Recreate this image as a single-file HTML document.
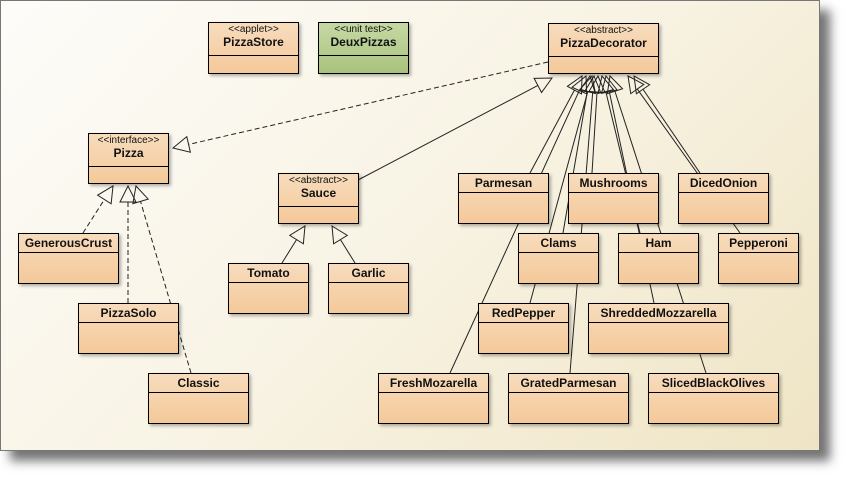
<!DOCTYPE html>
<html><head><meta charset="utf-8"><style>
body{margin:0;width:850px;height:481px;background:#fff;position:relative;overflow:hidden;font-family:"Liberation Sans",Arial,sans-serif}
#frame{position:absolute;left:0;top:0;width:818px;height:449px;border:1px solid #777;background:linear-gradient(135deg,#fdfcf9 0%,#f8f3e4 50%,#efe4c4 100%);box-shadow:10px 10px 10px rgba(0,0,0,0.55)}
.b{position:absolute;border:1px solid #000;background:linear-gradient(#f7dcbd,#f4c99a);box-shadow:2px 2px 3px rgba(0,0,0,0.3);box-sizing:border-box}
.b .h{border-bottom:1px solid #000;text-align:center;font-weight:bold;font-size:12px;color:#111;box-sizing:border-box}
.b .s{font-weight:normal;font-size:10px;display:block;line-height:11px;padding-top:1px}
.g{background:linear-gradient(#c6d9a4,#a9c27d)}
svg{position:absolute;left:0;top:0}
</style></head><body>
<div id="frame"></div>
<svg id="sv" width="850" height="481"></svg>
<div class="b" style="left:208px;top:22px;width:91px;height:52px"><div class="h" style="height:33px"><span class="s">&lt;&lt;applet&gt;&gt;</span>PizzaStore</div></div>
<div class="b g" style="left:318px;top:22px;width:91px;height:52px"><div class="h" style="height:33px"><span class="s">&lt;&lt;unit test&gt;&gt;</span>DeuxPizzas</div></div>
<div class="b" style="left:548px;top:23px;width:111px;height:51px"><div class="h" style="height:33px"><span class="s">&lt;&lt;abstract&gt;&gt;</span>PizzaDecorator</div></div>
<div class="b" style="left:88px;top:133px;width:81px;height:51px"><div class="h" style="height:33px"><span class="s">&lt;&lt;interface&gt;&gt;</span>Pizza</div></div>
<div class="b" style="left:278px;top:173px;width:81px;height:51px"><div class="h" style="height:33px"><span class="s">&lt;&lt;abstract&gt;&gt;</span>Sauce</div></div>
<script>
var boxes=[["GenerousCrust",18,233,101],["PizzaSolo",78,303,101],["Classic",148,373,101],["Tomato",228,263,81],["Garlic",328,263,81],
["Parmesan",458,173,91],["Mushrooms",568,173,91],["DicedOnion",678,173,91],["Clams",518,233,81],["Ham",618,233,81],["Pepperoni",718,233,81],
["RedPepper",478,303,91],["ShreddedMozzarella",588,303,141],["FreshMozarella",378,373,111],["GratedParmesan",508,373,121],["SlicedBlackOlives",648,373,131]];
boxes.forEach(function(b){document.write('<div class="b" style="left:'+b[1]+'px;top:'+b[2]+'px;width:'+b[3]+'px;height:51px"><div class="h" style="height:19px;line-height:18px">'+b[0]+'</div></div>');});
var s='';
function arr(x1,y1,tx,ty,dash){var dx=tx-x1,dy=ty-y1,L=Math.sqrt(dx*dx+dy*dy),ux=dx/L,uy=dy/L,bx=tx-ux*16,by=ty-uy*16,px=-uy*8,py=ux*8;
s+='<line x1="'+x1+'" y1="'+y1+'" x2="'+bx+'" y2="'+by+'" stroke="#222" stroke-width="1"'+(dash?' stroke-dasharray="5,3"':'')+'/>';
s+='<polygon points="'+tx+','+ty+' '+(bx+px)+','+(by+py)+' '+(bx-px)+','+(by-py)+'" fill="none" stroke="#222"/>';}
arr(548,62,173,148,1);
arr(358,180,552,78);
arr(83,233,113,186,1);arr(128,303,128,186,1);arr(191,373,136,186,1);
arr(282,263,305,226);arr(355,263,332,226);
var d=[[530,173,582,76],[450,373,586,76],[563,233,590,76],[570,373,594,76],[530,303,592,76],[592,173,598,76],[640,233,602,76],[654,303,606,76],[706,373,610,76],[740,233,628,76],[700,173,634,76]];
d.forEach(function(a){arr(a[0],a[1],a[2],a[3]);});
document.getElementById('sv').innerHTML=s;
</script>
</body></html>
